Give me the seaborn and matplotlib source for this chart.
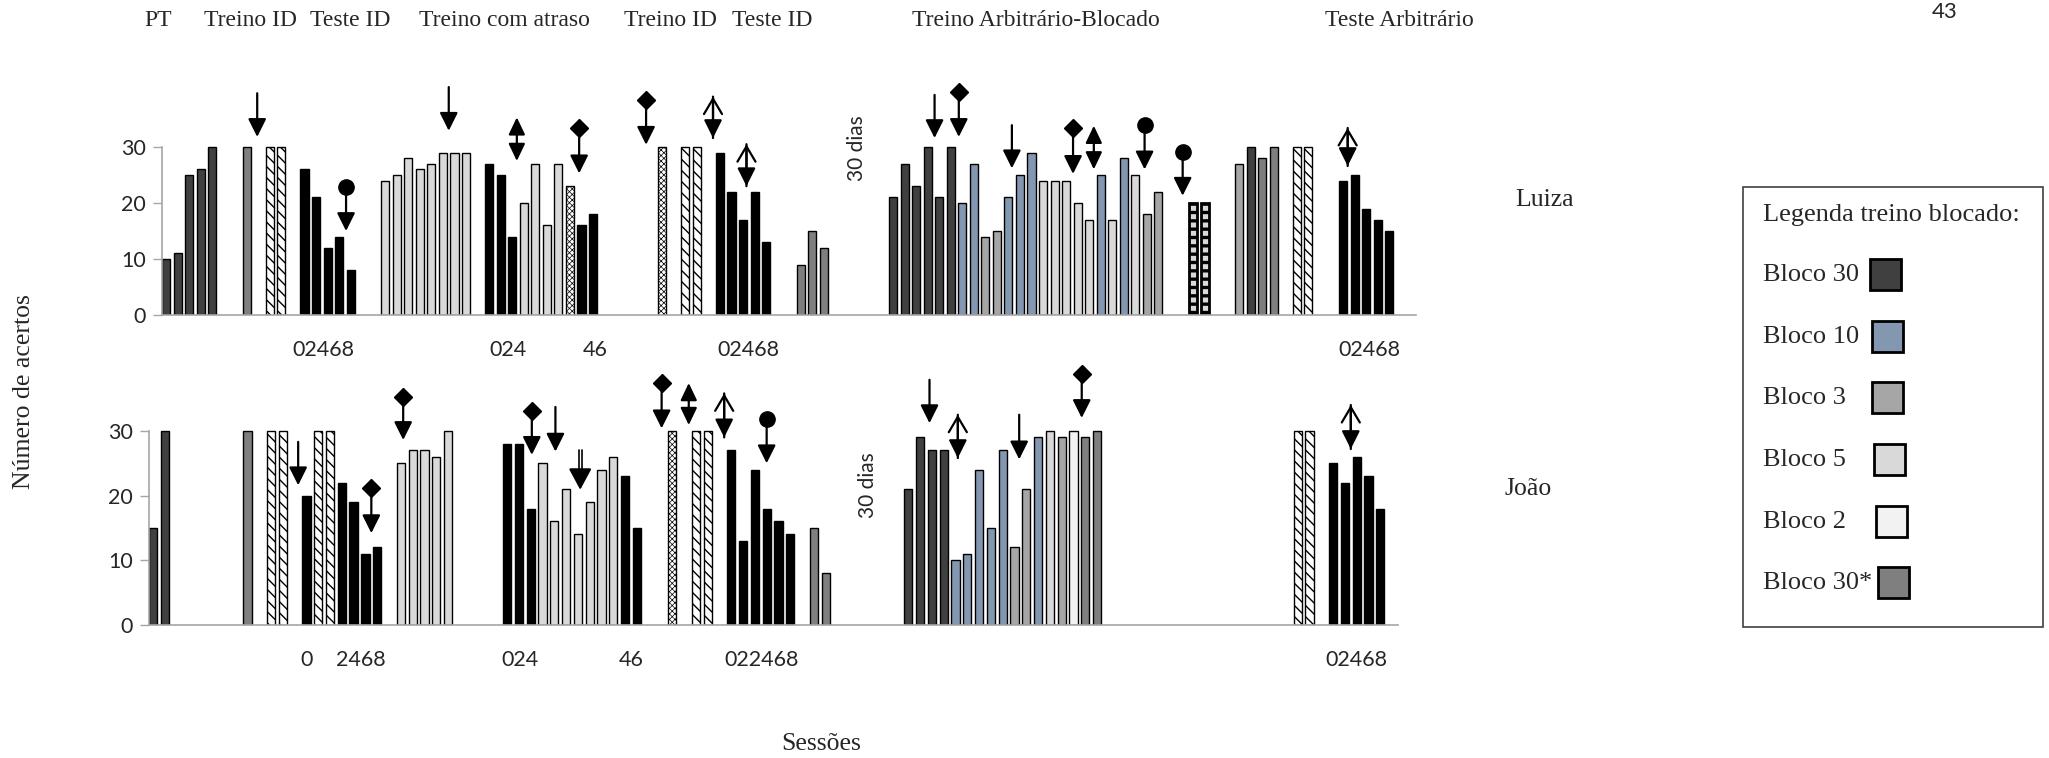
import numpy as np
import pandas as pd
import matplotlib
matplotlib.use("Agg")
import matplotlib.pyplot as plt
import matplotlib.transforms as mtransforms
from matplotlib.patches import Rectangle
import seaborn as sns

# ---------------- data ----------------
luiza_sessao = [0, 1, 2, 3, 4,
                7, 9, 10,
                12, 13, 14, 15, 16,
                19, 20, 21, 22, 23, 24, 25, 26,
                28, 29, 30, 31, 32, 33, 34, 35, 36, 37,
                43, 45, 46,
                48, 49, 50, 51, 52,
                55, 56, 57,
                63, 64, 65, 66, 67, 68, 69, 70, 71, 72, 73, 74,
                75, 76, 77, 78, 79, 80, 81, 82, 83, 84, 85, 86,
                89, 90,
                93, 94, 95, 96,
                98, 99,
                102, 103, 104, 105, 106]
luiza_acertos = [10, 11, 25, 26, 30,
                 30, 30, 30,
                 26, 21, 12, 14, 8,
                 24, 25, 28, 26, 27, 29, 29, 29,
                 27, 25, 14, 20, 27, 16, 27, 23, 16, 18,
                 30, 30, 30,
                 29, 22, 17, 22, 13,
                 9, 15, 12,
                 21, 27, 23, 30, 21, 30, 20, 27, 14, 15, 21, 25,
                 29, 24, 24, 24, 20, 17, 25, 17, 28, 25, 18, 22,
                 20, 20,
                 27, 30, 28, 30,
                 30, 30,
                 24, 25, 19, 17, 15]
luiza_tipo = ("b30 b30 b30 b30 b30 "
              "b30s diag diag "
              "teste teste teste teste teste "
              "b5 b5 b5 b5 b5 b5 b5 b5 "
              "teste teste teste b5 b5 b5 b5 pont teste teste "
              "pont diag diag "
              "teste teste teste teste teste "
              "b30s b30s b30s "
              "b30 b30 b30 b30 b30 b30 b10 b10 b3 b3 b10 b10 "
              "b10 b5 b5 b5 b5 b5 b10 b5 b10 b5 b3 b3 "
              "quad quad "
              "b3 b30 b30s b30s "
              "diag diag "
              "teste teste teste teste teste").split()

joao_sessao = [0, 1, 8, 10, 11, 13, 14, 15, 16, 17, 18, 19,
               21, 22, 23, 24, 25,
               30, 31, 32, 33, 34, 35, 36, 37, 38, 39, 40, 41,
               44, 46, 47,
               49, 50, 51, 52, 53, 54,
               56, 57,
               64, 65, 66, 67, 68, 69, 70, 71, 72, 73, 74, 75, 76, 77, 78, 79, 80,
               97, 98,
               100, 101, 102, 103, 104]
joao_acertos = [15, 30, 30, 30, 30, 20, 30, 30, 22, 19, 11, 12,
                25, 27, 27, 26, 30,
                28, 28, 18, 25, 16, 21, 14, 19, 24, 26, 23, 15,
                30, 30, 30,
                27, 13, 24, 18, 16, 14,
                15, 8,
                21, 29, 27, 27, 10, 11, 24, 15, 27, 12, 21, 29, 30, 29, 30, 29, 30,
                30, 30,
                25, 22, 26, 23, 18]
joao_tipo = ("b30 b30 b30s diag diag teste diag diag teste teste teste teste "
             "b5 b5 b5 b5 b5 "
             "teste teste teste b5 b5 b5 b5 b5 b5 b5 teste teste "
             "pont diag diag "
             "teste teste teste teste teste teste "
             "b30s b30s "
             "b30 b30 b30 b30 b10 b10 b10 b10 b10 b3 b3 b10 b5 b3 b2 b30s b30s "
             "diag diag "
             "teste teste teste teste teste").split()

# markers above bars: session, kind, top value, tip value
luiza_seta_x = [7.9, 15.6, 24.5, 30.4, 35.8, 41.6, 47.4, 50.3,
                66.6, 68.7, 73.3, 78.6, 80.4, 84.8, 88.1, 102.4]
luiza_seta_tipo = ["down", "circle", "down", "updown", "diamond", "diamond", "openup", "openup",
                   "down", "diamond", "down", "diamond", "updown", "circle", "circle", "openup"]
luiza_seta_topo = [39.6, 22.8, 40.7, 35.3, 33.4, 38.4, 39.0, 30.5,
                   39.3, 39.8, 33.9, 33.4, 33.8, 33.9, 29.1, 33.4]
luiza_seta_ponta = [31.8, 15.0, 32.9, 27.5, 25.3, 30.4, 31.6, 23.0,
                    31.6, 31.8, 26.2, 25.2, 26.0, 26.0, 21.3, 26.6]

joao_seta_x = [12.3, 18.5, 21.2, 32.1, 34.1, 36.2, 43.1, 45.4, 48.4, 52.0,
               65.8, 68.2, 73.4, 78.7, 101.5]
joao_seta_tipo = ["down", "diamond", "diamond", "diamond", "down", "double", "diamond", "updown",
                  "openup", "circle", "down", "openup", "down", "diamond", "openup"]
joao_seta_topo = [28.3, 21.1, 35.2, 33.1, 33.7, 27.0, 37.4, 37.4, 35.8, 31.8,
                  37.9, 32.5, 32.5, 38.8, 34.0]
joao_seta_ponta = [21.6, 14.2, 28.6, 26.3, 26.8, 20.9, 30.4, 30.9, 29.0, 25.0,
                   31.2, 25.8, 25.6, 32.0, 27.2]

# session labels under the axis
luiza_rotulos = ["02468", "024", "46", "02468", "02468"]
luiza_rotulos_x = [13.6, 29.6, 37.2, 50.5, 104.3]
joao_rotulos = ["0", "2468", "024", "46", "022468", "02468"]
joao_rotulos_x = [13.05, 17.6, 31.1, 40.5, 51.6, 102.0]

fases = ["PT", "Treino ID", "Teste ID", "Treino com atraso", "Treino ID", "Teste ID",
         "Treino Arbitrário-Blocado", "Teste Arbitrário"]
fases_x = [-0.7, 7.3, 16.0, 29.3, 43.7, 52.5, 75.4, 106.9]

legenda_rotulos = ["Bloco 30", "Bloco 10", "Bloco 3", "Bloco 5", "Bloco 2", "Bloco 30*"]
legenda_cores = ["#404040", "#8497B0", "#A6A6A6", "#D9D9D9", "#F2F2F2", "#7F7F7F"]

cores = {"b30": "#404040", "b10": "#8497B0", "b3": "#A6A6A6", "b5": "#D9D9D9",
         "b2": "#F2F2F2", "b30s": "#7F7F7F", "teste": "#000000",
         "diag": "#FFFFFF", "pont": "#FFFFFF", "quad": "#D9D9D9"}
hachuras = {"diag": "\\\\\\", "pont": "xxxxxx", "quad": "--"}

# ---------------- style ----------------
sns.set_style("white")
plt.rcParams["font.family"] = ["Liberation Serif", "DejaVu Serif"]
plt.rcParams["hatch.linewidth"] = 0.9
SANS = ["Lato", "DejaVu Sans"]
AXC = "#A6A6A6"
W, H = 2049, 758

fig = plt.figure(figsize=(W / 100, H / 100), dpi=100, facecolor="white")


def fx(px):
    return px / W


def fy(py):
    return 1 - py / H


ax_l = fig.add_axes([fx(162), fy(315), fx(1416) - fx(162), 252 / H])
ax_j = fig.add_axes([fx(149), fy(625), fx(1398) - fx(149), 258.8 / H])


def barras(ax, sessao, acertos, tipo):
    df = pd.DataFrame({"sessao": sessao, "acertos": acertos, "tipo": tipo})
    sns.barplot(data=df, x="sessao", y="acertos", hue="tipo", palette=cores,
                native_scale=True, dodge=False, width=0.7, errorbar=None,
                legend=False, saturation=1, edgecolor="black", linewidth=1.0, ax=ax)
    mapa = dict(zip(sessao, tipo))
    for p in ax.patches:
        t = mapa.get(int(round(p.get_x() + p.get_width() / 2)))
        if t is None:
            continue
        p.set_facecolor(cores[t])
        p.set_edgecolor("black")
        if t in hachuras:
            p.set_hatch(hachuras[t])
            if hasattr(p, "set_hatch_linewidth"):
                p.set_hatch_linewidth({"diag": 1.0, "pont": 0.5, "quad": 2.4}[t])
        if t == "quad":
            p.set_linewidth(2.0)


def seta(ax, x, topo, ponta, tipo):
    kw = dict(color="black", lw=1.6, shrinkA=0, shrinkB=0)
    if tipo == "updown":
        ax.annotate("", xy=(x, ponta), xytext=(x, topo), annotation_clip=False,
                    arrowprops=dict(arrowstyle="<|-|>,head_length=1.05,head_width=0.5", **kw))
        return
    if tipo == "double":
        for dx in (-0.13, 0.13):
            ax.plot([x + dx, x + dx], [topo, ponta + 2.5], color="black", lw=1.2, clip_on=False)
        ax.annotate("", xy=(x, ponta), xytext=(x, ponta + 3.0), annotation_clip=False,
                    arrowprops=dict(arrowstyle="-|>,head_length=1.3,head_width=0.7", **kw))
        return
    ax.annotate("", xy=(x, ponta), xytext=(x, topo), annotation_clip=False,
                arrowprops=dict(arrowstyle="-|>,head_length=1.1,head_width=0.55", **kw))
    if tipo == "diamond":
        ax.plot([x], [topo], marker="D", ms=9, color="black", clip_on=False)
    elif tipo == "circle":
        ax.plot([x], [topo], marker="o", ms=11, color="black", clip_on=False)
    elif tipo == "openup":
        ax.annotate("", xy=(x, topo), xytext=(x, ponta), annotation_clip=False,
                    arrowprops=dict(arrowstyle="->,head_length=1.1,head_width=0.65", **kw))


def eixo(ax, xlim, ylim):
    ax.set_xlim(*xlim)
    ax.set_ylim(*ylim)
    ax.set_xlabel("")
    ax.set_ylabel("")
    ax.set_xticks([])
    ax.set_yticks([0, 10, 20, 30])
    ax.set_yticklabels(["0", "10", "20", "30"], family=SANS, fontsize=15.5)
    for s in ("top", "right"):
        ax.spines[s].set_visible(False)
    ax.spines["left"].set_bounds(0, 30)
    for s in ("left", "bottom"):
        ax.spines[s].set_color(AXC)
        ax.spines[s].set_linewidth(1.2)
    ax.tick_params(axis="y", direction="out", length=6.5, width=1.0, color=AXC, pad=5, left=True)
    ax.patch.set_alpha(0)


barras(ax_l, luiza_sessao, luiza_acertos, luiza_tipo)
barras(ax_j, joao_sessao, joao_acertos, joao_tipo)
eixo(ax_l, (-0.35, 108.32), (0, 45))
eixo(ax_j, (-0.34, 105.5), (0, 40))

for x, t, a, b in zip(luiza_seta_x, luiza_seta_tipo, luiza_seta_topo, luiza_seta_ponta):
    seta(ax_l, x, a, b, t)
for x, t, a, b in zip(joao_seta_x, joao_seta_tipo, joao_seta_topo, joao_seta_ponta):
    seta(ax_j, x, a, b, t)

for r, x in zip(luiza_rotulos, luiza_rotulos_x):
    ax_l.text(x, -6.25, r, ha="center", va="center", family=SANS, fontsize=15.5, clip_on=False)
for r, x in zip(joao_rotulos, joao_rotulos_x):
    ax_j.text(x, -5.4, r, ha="center", va="center", family=SANS, fontsize=15.5, clip_on=False)

# phase headers
tr = mtransforms.blended_transform_factory(ax_l.transData, fig.transFigure)
for f, x in zip(fases, fases_x):
    ax_l.text(x, fy(20), f, transform=tr, ha="center", va="center", fontsize=17, clip_on=False)

ax_l.text(59.9, 29.8, "30 dias", rotation=90, ha="center", va="center", family=SANS, fontsize=15)
ax_j.text(60.6, 21.6, "30 dias", rotation=90, ha="center", va="center", family=SANS, fontsize=15)

fig.text(fx(1545), fy(200), "Luiza", ha="center", va="center", fontsize=18.5)
fig.text(fx(1528), fy(489), "João", ha="center", va="center", fontsize=18.5)
fig.text(fx(24), fy(392), "Número de acertos", rotation=90, ha="center", va="center", fontsize=18.5)
fig.text(fx(821), fy(744), "Sessões", ha="center", va="center", fontsize=18.5)
fig.text(fx(1945), fy(12), "43", ha="center", va="center", family=SANS, fontsize=16)

# legend box
fig.add_artist(Rectangle((fx(1743), fy(627)), fx(2043) - fx(1743), (627 - 187) / H,
                         transform=fig.transFigure, fill=False, ec="#404040", lw=1.2))
fig.text(fx(1763), fy(215), "Legenda treino blocado:", ha="left", va="center", fontsize=19)
leg_y = [275, 337, 398, 460, 522, 583]
leg_sq = [1870, 1872, 1872, 1874, 1876, 1878]
for rot, cor, yy, sx in zip(legenda_rotulos, legenda_cores, leg_y, leg_sq):
    fig.text(fx(1763), fy(yy), rot, ha="left", va="center", fontsize=19)
    fig.add_artist(Rectangle((fx(sx), fy(yy + 15)), 31 / W, 31 / H, transform=fig.transFigure,
                             facecolor=cor, edgecolor="black", lw=2.0))

fig.savefig("out.png", dpi=100, facecolor="white")
plt.close(fig)
